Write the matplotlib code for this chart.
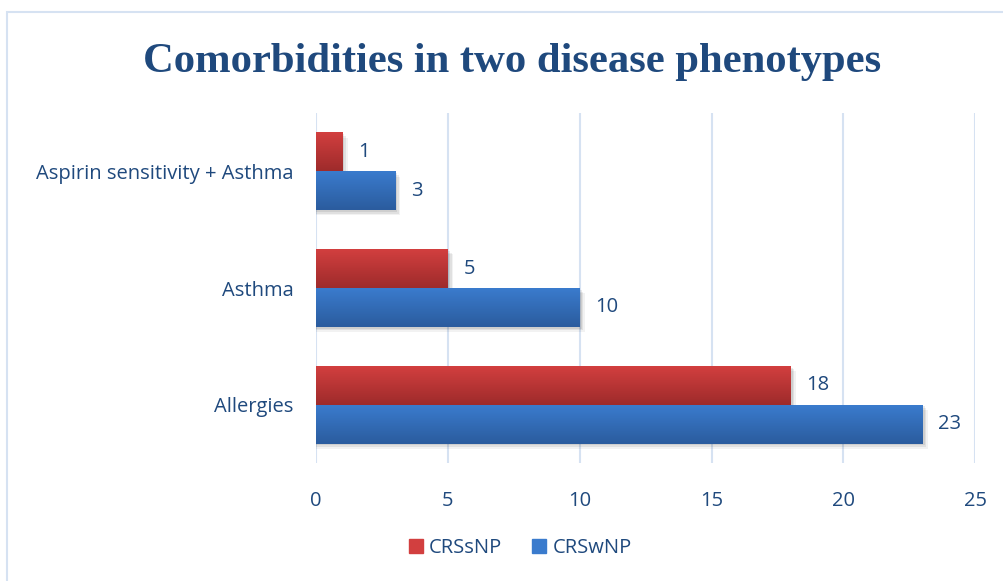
import numpy as np
import matplotlib
matplotlib.use("Agg")
import matplotlib.pyplot as plt
from matplotlib.patches import Rectangle

# data
categories = ["Allergies", "Asthma", "Aspirin sensitivity + Asthma"]
crs_snp = [18, 5, 1]
crs_wnp = [23, 10, 3]
series_names = ["CRSsNP", "CRSwNP"]
x_ticks = [0, 5, 10, 15, 20, 25]

TEXT = "#1f497d"
RED_TOP, RED_BOT = "#d23f3f", "#9e2b2b"
BLUE_TOP, BLUE_BOT = "#3a7bcd", "#2b5c9e"
GRID = "#d6e2f2"
FS = 14.5

fig = plt.figure(figsize=(10.04, 5.81), dpi=100)
ax = fig.add_axes([0.3147, 0.203, 0.6567, 0.6025])

# outer frame
fig.patches.append(Rectangle((0.007, -0.01), 0.995, 0.99, transform=fig.transFigure,
                             fill=False, edgecolor="#d6e2f2", linewidth=1.5))

h = 0.333
y = np.arange(len(categories))


def grad_bar(yc, val, c_top, c_bot):
    # soft shadow under the bar
    for k, a in [(0.045, 0.05), (0.03, 0.07), (0.015, 0.08)]:
        ax.add_patch(Rectangle((0.02, yc - h / 2 - k), val + k * 4, h, color="#000000",
                               alpha=a, zorder=2, linewidth=0))
    grad = np.linspace(0, 1, 50).reshape(-1, 1)
    cmap = matplotlib.colors.LinearSegmentedColormap.from_list("g", [c_top, c_bot])
    ax.imshow(grad, cmap=cmap, aspect="auto", origin="upper",
              extent=[0, val, yc - h / 2, yc + h / 2], zorder=3)


for i in range(len(categories)):
    grad_bar(y[i] + h / 2, crs_snp[i], RED_TOP, RED_BOT)
    grad_bar(y[i] - h / 2, crs_wnp[i], BLUE_TOP, BLUE_BOT)
    ax.text(crs_snp[i] + 0.6, y[i] + h / 2, str(crs_snp[i]), va="center", ha="left",
            color=TEXT, fontsize=FS, family="Open Sans")
    ax.text(crs_wnp[i] + 0.6, y[i] - h / 2, str(crs_wnp[i]), va="center", ha="left",
            color=TEXT, fontsize=FS, family="Open Sans")

ax.set_xlim(0, 25)
ax.set_ylim(-0.5, 2.5)
ax.set_xticks(x_ticks)
ax.set_yticks(y)
ax.set_yticklabels(categories)
for s in ax.spines.values():
    s.set_visible(False)
ax.tick_params(length=0, colors=TEXT, labelsize=FS)
ax.tick_params(axis="x", pad=20)
ax.tick_params(axis="y", pad=16)
for lab in ax.get_xticklabels() + ax.get_yticklabels():
    lab.set_family("Open Sans")
ax.xaxis.grid(True, color=GRID, linewidth=1.5, zorder=0)
ax.set_axisbelow(True)

fig.text(0.51, 0.893, "Comorbidities in two disease phenotypes", ha="center", va="center",
         fontsize=30.7, fontweight="bold", family="Liberation Serif", color=TEXT)

handles = [Rectangle((0, 0), 1, 1, color=RED_TOP), Rectangle((0, 0), 1, 1, color=BLUE_TOP)]
leg = fig.legend(handles, series_names, loc="center", bbox_to_anchor=(0.518, 0.057), ncol=2,
                 frameon=False, handlelength=0.7, handleheight=0.7, handletextpad=0.3,
                 columnspacing=1.5, prop={"family": "Open Sans", "size": FS})
for t in leg.get_texts():
    t.set_color(TEXT)

fig.savefig("out.png", dpi=100)
